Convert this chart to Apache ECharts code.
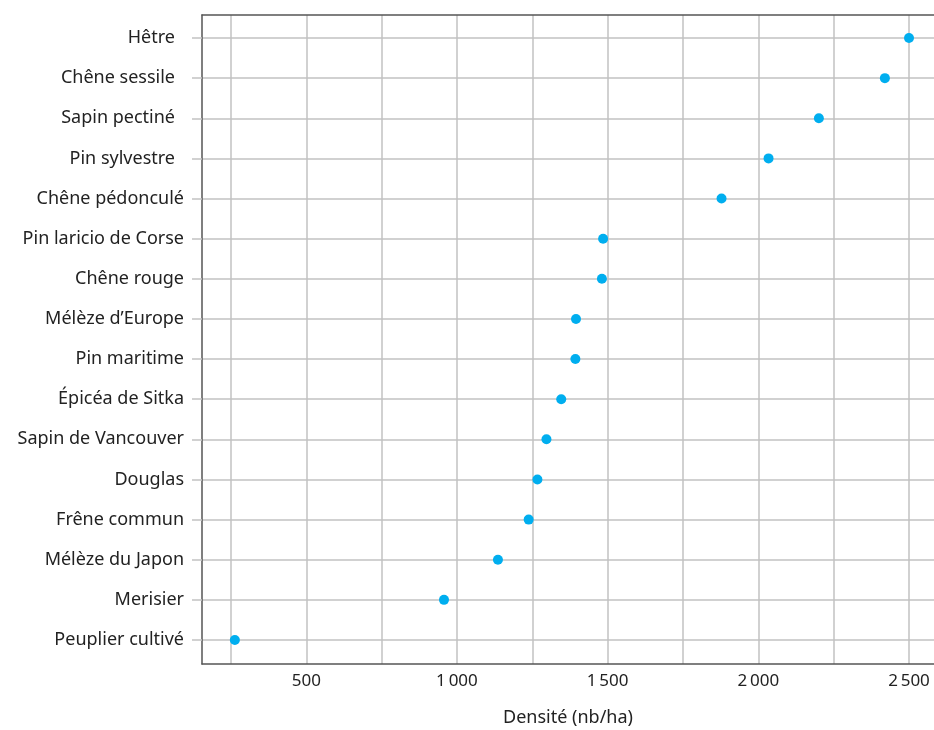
<!DOCTYPE html>
<html style="height: 100%">
<head>
  <meta charset="UTF-8">
  <title>Densité par essence</title>
  <script src="https://cdnjs.cloudflare.com/ajax/libs/echarts/6.0.0/echarts.min.js"></script>
  <style>
    body {
      margin: 0;
      height: 100%;
      background: #fff;
    }
    #main {
      width: 934px;
      height: 730px;
    }
  </style>
</head>
<body>
  <div id="main"></div>

  <script>
    // species, top to bottom
    const species = [
      'Hêtre', 'Chêne sessile', 'Sapin pectiné', 'Pin sylvestre', 'Chêne pédonculé',
      'Pin laricio de Corse', 'Chêne rouge', 'Mélèze d\u2019Europe', 'Pin maritime',
      'Épicéa de Sitka', 'Sapin de Vancouver', 'Douglas', 'Frêne commun',
      'Mélèze du Japon', 'Merisier', 'Peuplier cultivé'
    ];
    // density (nb/ha)
    const density = [
      2500, 2420, 2201, 2034, 1878,
      1485, 1481, 1395, 1393,
      1346, 1297, 1267, 1238,
      1136, 957, 263
    ];
    const xLabelValues = [500, 1000, 1500, 2000, 2500];
    const xGridValues = [250, 500, 750, 1000, 1250, 1500, 1750, 2000, 2250, 2500];
    const rowIndex = species.map((s, i) => i);

    const font = 'Noto Sans';
    const gridColor = '#c2c2c2';
    const axisColor = '#555';

    function fmtThousands(v) {
      return String(v).replace(/\B(?=(\d{3})+(?!\d))/g, '\u2009');
    }

    const myChart = echarts.init(document.getElementById('main'));

    const option = {
      animation: false,
      grid: {
        left: 202,
        top: 15,
        right: 0,
        bottom: 66,
        outerBoundsMode: 'none'
      },
      xAxis: [{
        type: 'value',
        min: 154,
        max: 2583,
        name: 'Densité (nb/ha)',
        nameLocation: 'middle',
        nameGap: 45,
        nameTextStyle: { fontFamily: font, fontSize: 18, color: '#222' },
        axisLine: { show: true, onZero: false, lineStyle: { color: axisColor, width: 1.5 } },
        axisTick: { show: false, customValues: xGridValues },
        axisLabel: {
          customValues: xLabelValues,
          formatter: fmtThousands,
          margin: 9,
          fontFamily: font,
          fontSize: 17,
          color: '#222'
        },
        splitLine: { show: true, lineStyle: { color: gridColor, width: 1.5 } }
      }, {
        // top frame line
        type: 'value',
        position: 'top',
        min: 154,
        max: 2583,
        axisLine: { show: true, onZero: false, lineStyle: { color: axisColor, width: 1.5 } },
        axisTick: { show: false },
        axisLabel: { show: false },
        splitLine: { show: false }
      }],
      yAxis: {
        type: 'value',
        inverse: true,
        min: -0.573,
        max: 15.598,
        axisLine: { show: true, onZero: false, lineStyle: { color: axisColor, width: 1.5 } },
        axisTick: {
          show: true,
          customValues: rowIndex,
          length: 10,
          lineStyle: { color: gridColor, width: 1.5 }
        },
        axisLabel: {
          customValues: rowIndex,
          margin: 18,
          formatter: v => (v < 4 ? '{p|' + species[v] + '}' : species[v]),
          rich: {
            p: { fontFamily: font, fontSize: 18, color: '#222', padding: [0, 9, 0, 0] }
          },
          fontFamily: font,
          fontSize: 18,
          color: '#222'
        },
        splitLine: { show: true, lineStyle: { color: gridColor, width: 1.5 } }
      },
      series: [{
        type: 'scatter',
        symbol: 'circle',
        symbolSize: 10,
        itemStyle: { color: '#00aeef', opacity: 1 },
        data: density.map((d, i) => [d, i])
      }]
    };

    myChart.setOption(option);
  </script>
</body>
</html>
